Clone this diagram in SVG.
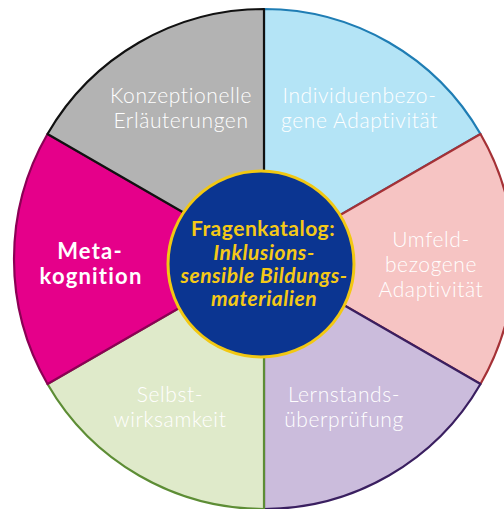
<svg xmlns="http://www.w3.org/2000/svg" width="504" height="509" viewBox="0 0 504 509">
<style>
.sec{stroke-width:2.2;stroke-linejoin:round}
.lt{font-family:Lato,"Open Sans","Liberation Sans",sans-serif;font-weight:300;font-size:21px;letter-spacing:0.6px;fill:#ffffff;text-anchor:middle}
.bd{font-family:Lato,"Open Sans","Liberation Sans",sans-serif;font-weight:700;font-size:22px;letter-spacing:1.2px;fill:#ffffff;text-anchor:middle}
.ct{font-family:Lato,"Open Sans","Liberation Sans",sans-serif;font-weight:700;font-size:21px;letter-spacing:0.5px;fill:#f5c917;text-anchor:middle}
</style>
<rect width="504" height="509" fill="#ffffff"/>
<g id="individuenbezogene">
<path class="sec" d="M264,259 L264,9 A250,250 0 0 1 480.5,134 Z" fill="#b4e4f6" stroke="#1f7db4"/>
<text class="lt" x="359.5" y="103">Individuenbezo-</text>
<text class="lt" x="359.5" y="128">gene Adaptivität</text>
</g>
<g id="umfeldbezogene">
<path class="sec" d="M264,259 L480.5,134 A250,250 0 0 1 480.5,384 Z" fill="#f6c4c3" stroke="#a53136"/>
<text class="lt" x="431" y="247">Umfeld-</text>
<text class="lt" x="431" y="272">bezogene</text>
<text class="lt" x="431" y="297">Adaptivität</text>
</g>
<g id="lernstand">
<path class="sec" d="M264,259 L480.5,384 A250,250 0 0 1 264,509 Z" fill="#cbbcdc" stroke="#3a1f60"/>
<text class="lt" x="344" y="402">Lernstands-</text>
<text class="lt" x="344" y="427">überprüfung</text>
</g>
<g id="selbstwirksamkeit">
<path class="sec" d="M264,259 L264,509 A250,250 0 0 1 47.5,384 Z" fill="#dfeaca" stroke="#5d8d35"/>
<text class="lt" x="170" y="402">Selbst-</text>
<text class="lt" x="170" y="427">wirksamkeit</text>
</g>
<g id="metakognition">
<path class="sec" d="M264,259 L47.5,384 A250,250 0 0 1 47.5,134 Z" fill="#e5008a" stroke="#8c0055"/>
<text class="bd" x="90" y="259">Meta-</text>
<text class="bd" x="91" y="284">kognition</text>
</g>
<g id="konzeptionelle">
<path class="sec" d="M264,259 L47.5,134 A250,250 0 0 1 264,9 Z" fill="#b3b3b3" stroke="#111111"/>
<text class="lt" x="181" y="103">Konzeptionelle</text>
<text class="lt" x="181" y="128">Erläuterungen</text>
</g>
<g id="fragenkatalog">
<circle cx="261" cy="264" r="93" fill="#0b3591" stroke="#f2c812" stroke-width="3"/>
<text class="ct" x="263" y="236">Fragenkatalog:</text>
<text class="ct" x="264" y="260" font-style="italic">Inklusions-</text>
<text class="ct" x="264" y="283" font-style="italic">sensible Bildungs-</text>
<text class="ct" x="264" y="306" font-style="italic">materialien</text>
</g>
</svg>
